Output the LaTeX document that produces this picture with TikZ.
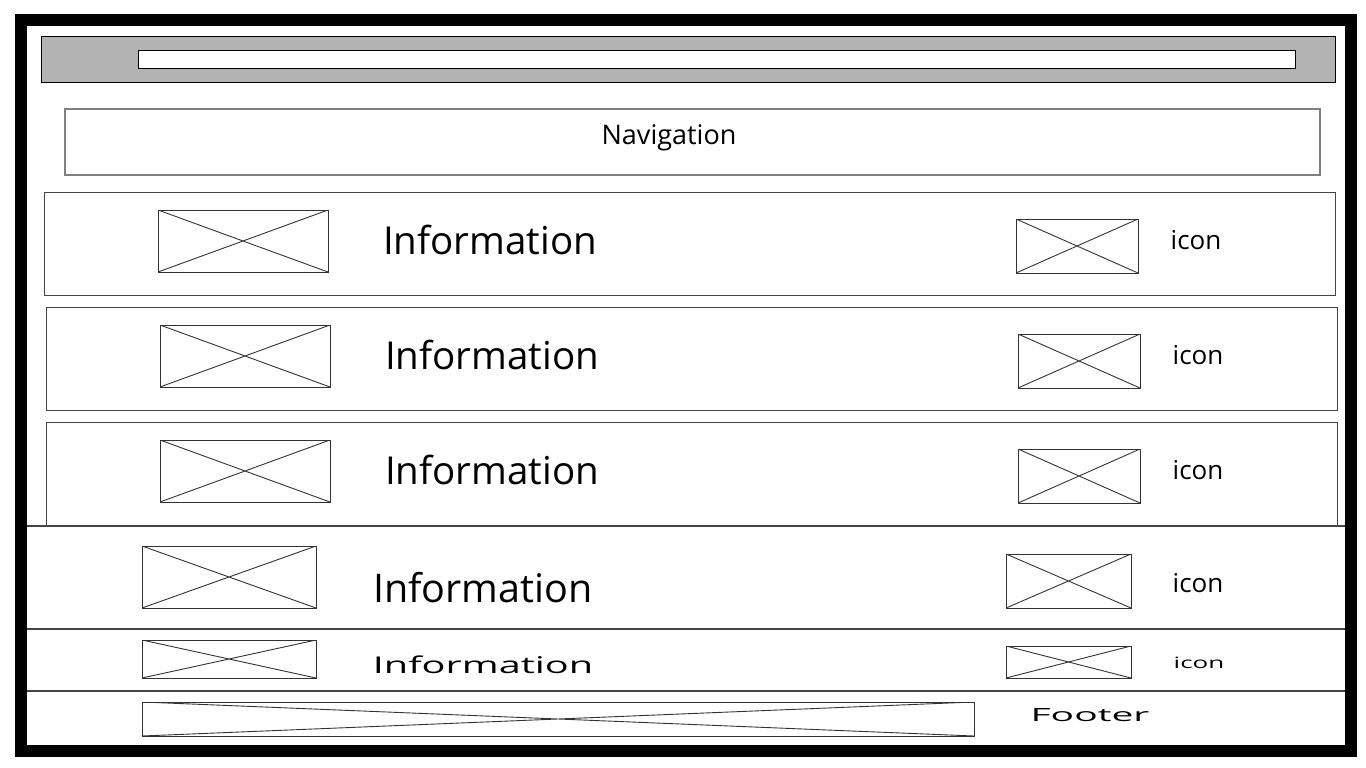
\documentclass[tikz,border=0pt]{standalone}
\usepackage{fontspec}
\setmainfont{Open Sans}
\definecolor{barcolor}{HTML}{B3B3B3}
\definecolor{edgecolor}{HTML}{808080}
\definecolor{linecolor}{HTML}{444444}

\begin{document}
\begin{tikzpicture}[
    x=1pt, y=-1pt,
    frame/.style={rectangle, draw, line width=12pt, inner sep=0pt,
                  minimum width=1330pt, minimum height=731pt},
    panel/.style={rectangle, draw=linecolor, line width=1pt, inner sep=0pt,
                  minimum width=1291pt, minimum height=103pt},
    band/.style={rectangle, draw=linecolor, line width=1.5pt, inner sep=0pt,
                 minimum width=1330pt},
    placeholder/.style={rectangle, draw=black!80, line width=0.9pt, inner sep=0pt,
                        path picture={
                          \draw[line width=0.9pt] (path picture bounding box.north west) -- (path picture bounding box.south east)
                                (path picture bounding box.south west) -- (path picture bounding box.north east);}},
    infotext/.style={font=\fontsize{38.5}{42}\selectfont, inner sep=0pt},
    icontext/.style={font=\fontsize{26}{30}\selectfont, inner sep=0pt}
]
\useasboundingbox (0,0) rectangle (1366,768);
% header bar and navigation
\node[rectangle, draw, line width=1pt, fill=barcolor, minimum width=1294pt, minimum height=46pt] (header) at (688,60) {};
\node[rectangle, draw, line width=1pt, fill=white, minimum width=1157pt, minimum height=18pt] (address) at (716.5,60) {};
\node[rectangle, draw=edgecolor, line width=1.5pt, minimum width=1255pt, minimum height=66pt] (nav) at (692.5,142) {};
\node[font=\fontsize{27}{30}\selectfont, inner sep=0pt] (navlabel) at (669,138) {Navigation};
% framed rows
\node[panel] (rowA) at (689.5,243.5) {};
\node[panel] (rowB) at (691.5,358.5) {};
\node[panel] (rowC) at (691.5,473.5) {};
\node[placeholder, minimum width=170pt, minimum height=62pt] (imgA) at (243,241) {};
\node[placeholder, minimum width=170pt, minimum height=62pt] (imgB) at (245,356) {};
\node[placeholder, minimum width=170pt, minimum height=62pt] (imgC) at (245,471) {};
\node[placeholder, minimum width=122pt, minimum height=54pt] (iconA) at (1077,246) {};
\node[placeholder, minimum width=122pt, minimum height=54pt] (iconB) at (1079,361) {};
\node[placeholder, minimum width=122pt, minimum height=54pt] (iconC) at (1079,476) {};
\node[infotext] (infoA) at (490,240) {Information};
\node[infotext] (infoB) at (492,355) {Information};
\node[infotext] (infoC) at (492,470) {Information};
\node[icontext] (labelA) at (1196,240) {icon};
\node[icontext] (labelB) at (1198,355) {icon};
\node[icontext] (labelC) at (1198,470) {icon};
% full width rows
\node[band, minimum height=103pt] (rowD) at (686,577.5) {};
\node[band, minimum height=62pt] (rowE) at (686,660) {};
\node[band, minimum height=60pt] (rowF) at (686,721) {};
\node[placeholder, minimum width=174pt, minimum height=62pt] (imgD) at (229,577) {};
\node[placeholder, minimum width=174pt, minimum height=38pt] (imgE) at (229,659) {};
\node[placeholder, minimum width=832pt, minimum height=34pt] (imgF) at (558,719) {};
\node[placeholder, minimum width=125pt, minimum height=54pt] (iconD) at (1068.5,581) {};
\node[placeholder, minimum width=125pt, minimum height=32pt] (iconE) at (1068.5,662) {};
\node[infotext, font=\fontsize{39.5}{42}\selectfont] (infoD) at (483,588) {Information};
\node[infotext] (infoE) at (483,665) {\scalebox{1.03}[0.6]{Information}};
\node[icontext] (labelD) at (1198,583) {icon};
\node[icontext] (labelE) at (1199,663) {\scalebox{1}[0.6]{icon}};
\node[icontext] (footer) at (1090,715) {\scalebox{1.5}[0.7]{Footer}};
% page frame
\node[frame] (page) at (686,385.5) {};
\end{tikzpicture}
\end{document}
